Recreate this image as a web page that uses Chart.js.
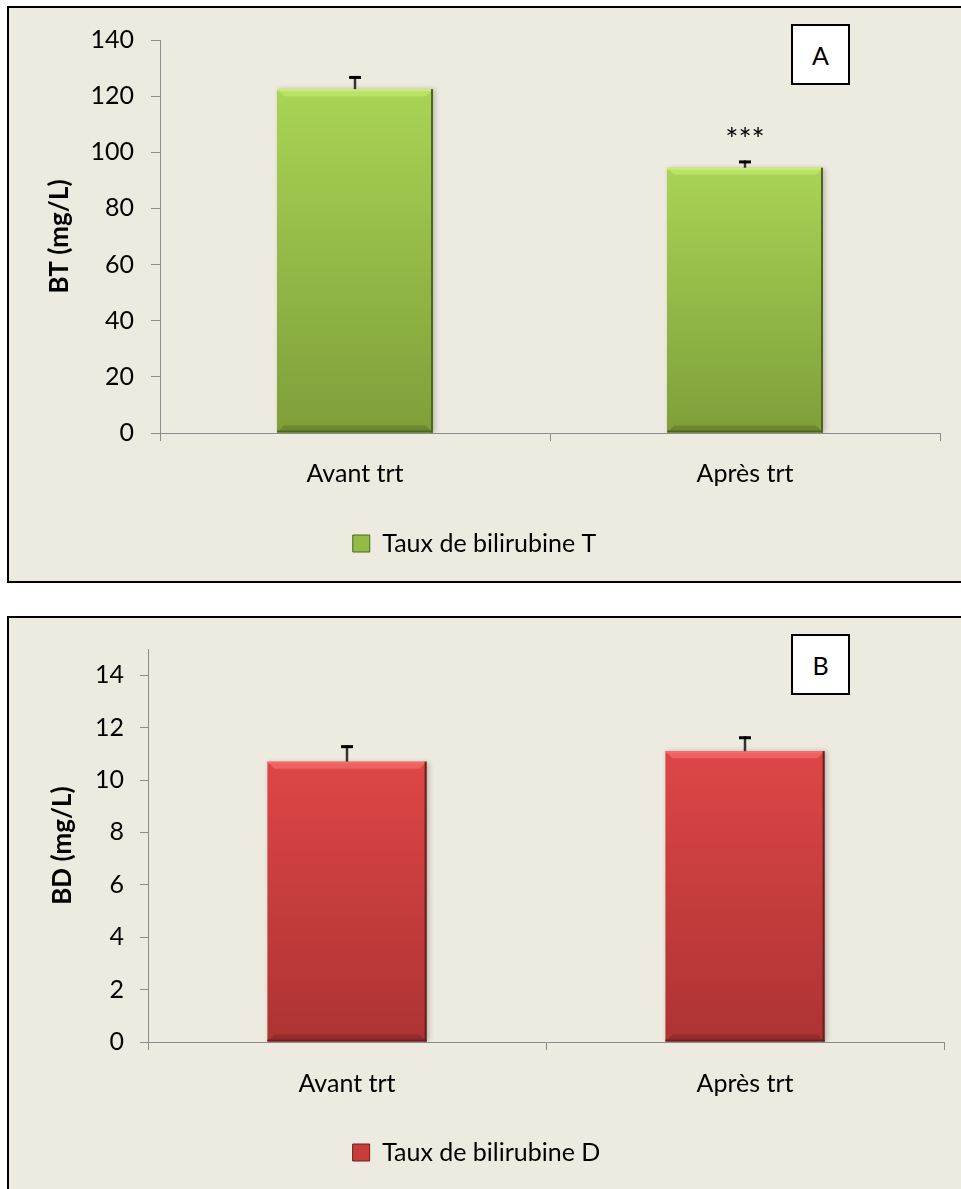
<!DOCTYPE html>
<html>
<head>
<meta charset="utf-8">
<script src="https://cdn.jsdelivr.net/npm/chart.js@4.4.1/dist/chart.umd.min.js"></script>
<style>
    body { margin: 0; background: #fff; width: 961px; height: 1189px; overflow: hidden; position: relative; }
    .panel { position: absolute; left: 7px; width: 1000px; border: 2px solid #000; background: #edebe0; }
    #panelA { top: 6px; height: 573px; }
    #panelB { top: 616px; height: 600px; }
    .panel canvas { position: absolute; left: 0; top: 0; display: block; }
    .tag { position: absolute; left: 782px; width: 55px; height: 57px; border: 2px solid #000; background: #fff;
           font: 25px Lato, sans-serif; color: #000; display: flex; align-items: center; justify-content: center; }
</style>
</head>
<body>
<div class="panel" id="panelA">
    <canvas id="chartA" width="952" height="573"></canvas>
    <div class="tag" style="top: 16px;">A</div>
</div>
<div class="panel" id="panelB">
    <canvas id="chartB" width="952" height="571"></canvas>
    <div class="tag" style="top: 16px;">B</div>
</div>
<script>
// Data
const categories = ['Avant trt', 'Après trt'];

const btValues = [122.5, 94.5];
const btErrors = [4.7, 2.6];
const btStars = ['', '***'];
const btTickValues = [0, 20, 40, 60, 80, 100, 120, 140];

const bdValues = [10.7, 11.1];
const bdErrors = [0.63, 0.57];
const bdStars = ['', ''];
const bdTickValues = [0, 2, 4, 6, 8, 10, 12, 14];

const FONT = 'Lato, "Noto Sans", sans-serif';

// Vertical gradient running from the top of each bar down to its base
function barGradient(top, bottom) {
    return function (ctx) {
        const chart = ctx.chart;
        const yScale = chart.scales.y;
        if (!yScale || ctx.type !== 'data' || !ctx.parsed) return bottom;
        const yTop = yScale.getPixelForValue(ctx.parsed.y);
        const yBase = yScale.getPixelForValue(0);
        if (!isFinite(yTop) || !isFinite(yBase)) return bottom;
        const g = chart.ctx.createLinearGradient(0, yTop, 0, yBase);
        g.addColorStop(0, top);
        g.addColorStop(1, bottom);
        return g;
    };
}

// Soft shadow behind the bars, then bevel, error bars and significance marks
const barDecor = {
    id: 'barDecor',
    beforeDatasetsDraw(chart) {
        const ctx = chart.ctx;
        ctx.save();
        ctx.shadowColor = 'rgba(0, 0, 0, 0.22)';
        ctx.shadowBlur = 5;
        ctx.shadowOffsetX = 2;
        ctx.shadowOffsetY = 0;
    },
    afterDatasetsDraw(chart, args, opts) {
        const ctx = chart.ctx;
        ctx.restore();
        const yScale = chart.scales.y;
        const meta = chart.getDatasetMeta(0);
        const values = chart.data.datasets[0].data;
        ctx.save();
        meta.data.forEach((bar, i) => {
            const { x, y, base, width } = bar.getProps(['x', 'y', 'base', 'width'], true);
            const left = x - width / 2;
            const right = x + width / 2;
            const b = 7;

            // top highlight
            ctx.fillStyle = opts.light;
            ctx.beginPath();
            ctx.moveTo(left, y);
            ctx.lineTo(right, y);
            ctx.lineTo(right - b, y + b);
            ctx.lineTo(left + b, y + b);
            ctx.closePath();
            ctx.fill();
            ctx.fillStyle = opts.lightLine;
            ctx.fillRect(left, y, width, 2);

            // bottom shade
            ctx.fillStyle = opts.shade;
            ctx.beginPath();
            ctx.moveTo(left, base);
            ctx.lineTo(right, base);
            ctx.lineTo(right - b, base - b);
            ctx.lineTo(left + b, base - b);
            ctx.closePath();
            ctx.fill();

            // dark right edge
            ctx.fillStyle = opts.edge;
            ctx.fillRect(right - 2, y, 2, base - y);
            ctx.fillRect(left, base - 2, width, 2);

            // error bar (upper half)
            const errTop = yScale.getPixelForValue(values[i] + opts.errors[i]);
            ctx.strokeStyle = '#333';
            ctx.lineWidth = 2.5;
            ctx.beginPath();
            ctx.moveTo(x, y);
            ctx.lineTo(x, errTop);
            ctx.stroke();
            ctx.strokeStyle = '#000';
            ctx.lineWidth = 3;
            ctx.beginPath();
            ctx.moveTo(x - 6, errTop + 1.5);
            ctx.lineTo(x + 6, errTop + 1.5);
            ctx.stroke();

            // significance
            if (opts.stars[i]) {
                ctx.fillStyle = '#000';
                ctx.font = '31px ' + FONT;
                ctx.textAlign = 'center';
                ctx.textBaseline = 'alphabetic';
                ctx.fillText(opts.stars[i], x, errTop - 10);
            }
        });
        ctx.restore();
    }
};

function makeChart(canvasId, cfg) {
    const tickFont = { family: FONT, size: 25 };
    return new Chart(document.getElementById(canvasId), {
        type: 'bar',
        data: {
            labels: categories,
            datasets: [{
                label: cfg.legend,
                data: cfg.values,
                backgroundColor: barGradient(cfg.top, cfg.bottom),
                borderWidth: 0,
                barPercentage: 0.4,
                categoryPercentage: 1.0
            }]
        },
        plugins: [barDecor],
        options: {
            responsive: false,
            animation: false,
            layout: {
                padding: { top: cfg.padTop, right: cfg.padRight, bottom: cfg.padBottom, left: 0 }
            },
            plugins: {
                tooltip: { enabled: false },
                legend: {
                    position: 'bottom',
                    labels: {
                        boxWidth: 17,
                        boxHeight: 17,
                        padding: 0,
                        color: '#000',
                        font: tickFont,
                        generateLabels: () => [{
                            text: cfg.legend,
                            fillStyle: cfg.legendColor,
                            strokeStyle: cfg.edge,
                            lineWidth: 1,
                            hidden: false,
                            datasetIndex: 0
                        }]
                    }
                },
                barDecor: {
                    errors: cfg.errors,
                    stars: cfg.stars,
                    light: cfg.light,
                    lightLine: cfg.lightLine,
                    shade: cfg.shade,
                    edge: cfg.edge
                }
            },
            scales: {
                x: {
                    grid: {
                        offset: true,
                        drawOnChartArea: false,
                        tickLength: 8,
                        color: '#8c8c8c'
                    },
                    border: { color: '#8c8c8c', width: 1 },
                    ticks: { color: '#000', font: tickFont, padding: cfg.xPad },
                    afterFit: scale => { scale.height = cfg.xHeight; }
                },
                y: {
                    min: 0,
                    max: cfg.max,
                    grid: {
                        drawOnChartArea: false,
                        tickLength: cfg.tickLen,
                        color: '#8c8c8c'
                    },
                    border: { color: '#8c8c8c', width: 1 },
                    ticks: { color: '#000', font: tickFont, padding: cfg.tickPad },
                    afterBuildTicks: scale => { scale.ticks = cfg.tickValues.map(v => ({ value: v })); },
                    title: {
                        display: true,
                        text: cfg.title,
                        color: '#000',
                        font: { family: FONT, size: 26, weight: 'bold' },
                        padding: { top: cfg.titlePad, bottom: 0 }
                    },
                    afterFit: scale => { scale.width = cfg.yWidth; }
                }
            }
        }
    });
}

makeChart('chartA', {
    legend: 'Taux de bilirubine T',
    title: 'BT (mg/L)',
    values: btValues,
    errors: btErrors,
    stars: btStars,
    tickValues: btTickValues,
    max: 140,
    top: '#a9d455',
    bottom: '#7f9e39',
    light: 'rgba(200, 236, 120, 0.55)',
    lightLine: '#c8ee72',
    shade: 'rgba(70, 95, 25, 0.35)',
    edge: '#4e651d',
    legendColor: '#93bb45',
    padTop: 30,
    padRight: 21,
    padBottom: 15,
    xHeight: 98,
    xPad: 18,
    yWidth: 151,
    tickLen: 9,
    tickPad: 17,
    titlePad: 35
});

makeChart('chartB', {
    legend: 'Taux de bilirubine D',
    title: 'BD (mg/L)',
    values: bdValues,
    errors: bdErrors,
    stars: bdStars,
    tickValues: bdTickValues,
    max: 15,
    top: '#de4646',
    bottom: '#ad3333',
    light: 'rgba(250, 120, 120, 0.55)',
    lightLine: '#f26c6c',
    shade: 'rgba(110, 25, 25, 0.35)',
    edge: '#6a1f1f',
    legendColor: '#c93c3c',
    padTop: 28,
    padRight: 17,
    padBottom: 14,
    xHeight: 98,
    xPad: 19,
    yWidth: 139,
    tickLen: 8,
    tickPad: 16,
    titlePad: 38
});
</script>
</body>
</html>
